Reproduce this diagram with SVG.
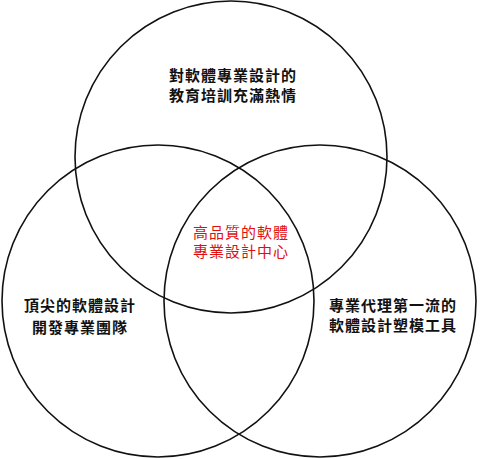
<svg xmlns="http://www.w3.org/2000/svg" width="480" height="459" viewBox="0 0 480 459">
<style>
.c{fill:none;stroke:#111;stroke-width:1.6}
.t{font-family:"Noto Sans CJK TC","Noto Sans CJK SC",sans-serif;font-size:15px;font-weight:bold;fill:#111;text-anchor:middle;letter-spacing:1px}
.r{font-family:"Noto Sans CJK TC","Noto Sans CJK SC",serif;font-size:15px;fill:#e01010;text-anchor:middle;letter-spacing:1px}
</style>
<rect width="480" height="459" fill="#fff"/>
<g id="circles">
<circle id="top" class="c" cx="231" cy="157" r="156"/>
<circle id="left" class="c" cx="158" cy="301" r="156"/>
<circle id="right" class="c" cx="320" cy="301" r="156"/>
</g>
<g id="label-top"><text class="t" x="233" y="81">對軟體專業設計的</text><text class="t" x="233" y="101">教育培訓充滿熱情</text></g>
<g id="label-left"><text class="t" x="80" y="311">頂尖的軟體設計</text><text class="t" x="80" y="333">開發專業團隊</text></g>
<g id="label-right"><text class="t" x="393" y="311">專業代理第一流的</text><text class="t" x="393" y="331">軟體設計塑模工具</text></g>
<g id="label-center"><text class="r" x="241" y="238">高品質的軟體</text><text class="r" x="241" y="257">專業設計中心</text></g>
</svg>
